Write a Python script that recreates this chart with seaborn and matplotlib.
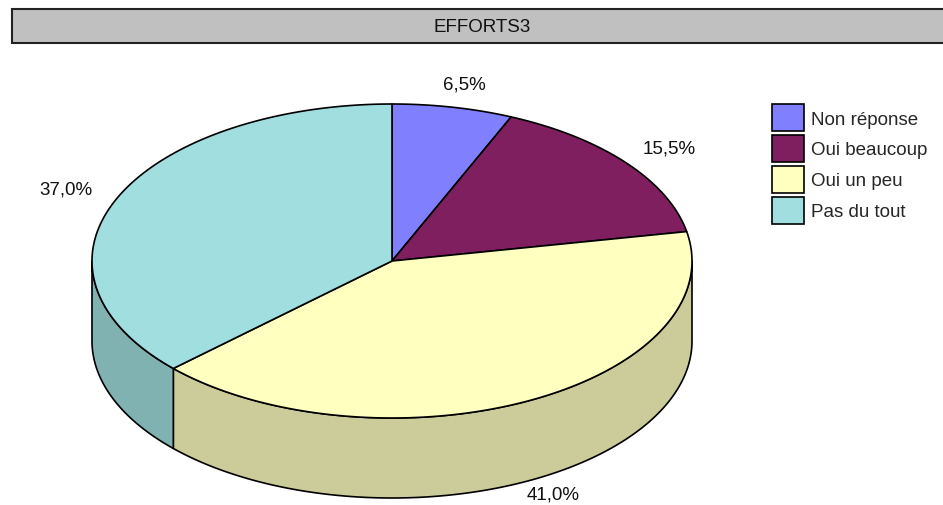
import numpy as np
import matplotlib
matplotlib.use("Agg")
import matplotlib.pyplot as plt
import seaborn as sns
from matplotlib.patches import Polygon, Rectangle, Patch

sns.set_theme(style="white")
plt.rcParams['font.family'] = ['Liberation Sans', 'DejaVu Sans']

# ---- data ----
title = "EFFORTS3"
categories = ["Non réponse", "Oui beaucoup", "Oui un peu", "Pas du tout"]
values = [6.5, 15.5, 41.0, 37.0]
labels = ["6,5%", "15,5%", "41,0%", "37,0%"]
top_colors = ["#8080FF", "#7F1F5F", "#FFFFC0", "#A0DEDF"]
side_colors = ["#6666CC", "#66194C", "#CCCC9A", "#80B2B2"]

# ---- layout (pixels) ----
W, H = 943, 506
cx, cy = 392, 262
rx, ry = 300, 157
depth = 80
FS = 13.5

fig = plt.figure(figsize=(W / 100, H / 100), dpi=100)
ax = fig.add_axes([0, 0, 1, 1])
ax.set_xlim(0, W)
ax.set_ylim(H, 0)
ax.axis("off")

def pt(theta_deg, dy=0.0):
    t = np.radians(theta_deg)
    return cx + rx * np.sin(t), cy - ry * np.cos(t) + dy

fracs = np.array(values) / np.sum(values)
bounds = np.concatenate([[0], np.cumsum(fracs) * 360])

# side walls (front half: theta in [90, 270])
for i in range(len(values)):
    a, b = max(bounds[i], 90), min(bounds[i + 1], 270)
    if b <= a:
        continue
    ts = np.linspace(a, b, 120)
    top = [pt(t) for t in ts]
    bot = [pt(t, depth) for t in ts[::-1]]
    ax.add_patch(Polygon(top + bot, closed=True, facecolor=side_colors[i],
                         edgecolor="black", linewidth=1.2, joinstyle="round"))

# top faces
for i in range(len(values)):
    ts = np.linspace(bounds[i], bounds[i + 1], 200)
    poly = [(cx, cy)] + [pt(t) for t in ts]
    ax.add_patch(Polygon(poly, closed=True, facecolor=top_colors[i],
                         edgecolor="black", linewidth=1.2, joinstyle="round"))

# labels
for i in range(len(values)):
    mid = (bounds[i] + bounds[i + 1]) / 2
    t = np.radians(mid)
    lx = cx + (rx + 55) * np.sin(t)
    if np.cos(t) < 0:
        ly = cy - (ry + 15) * np.cos(t) + depth
    else:
        ly = cy - (ry + 24) * np.cos(t)
    ax.text(lx, ly, labels[i], ha="center", va="center", fontsize=FS, color="#111111")

# title bar
ax.add_patch(Rectangle((12, 10), 940, 34, facecolor="#C0C0C0",
                       edgecolor="#222222", linewidth=1.5))
ax.text(482, 27.5, title, ha="center", va="center", fontsize=FS, color="#111111")

# legend
handles = [Patch(facecolor=c, edgecolor="black", linewidth=1.2) for c in top_colors]
leg = ax.legend(handles, categories, loc="upper left",
                bbox_to_anchor=(772 / W, 1 - 105 / H),
                bbox_transform=fig.transFigure, frameon=False, fontsize=FS,
                handlelength=1.7, handleheight=1.84, handletextpad=0.37,
                labelspacing=0.21, borderpad=0, borderaxespad=0)

fig.savefig("out.png", dpi=100)
